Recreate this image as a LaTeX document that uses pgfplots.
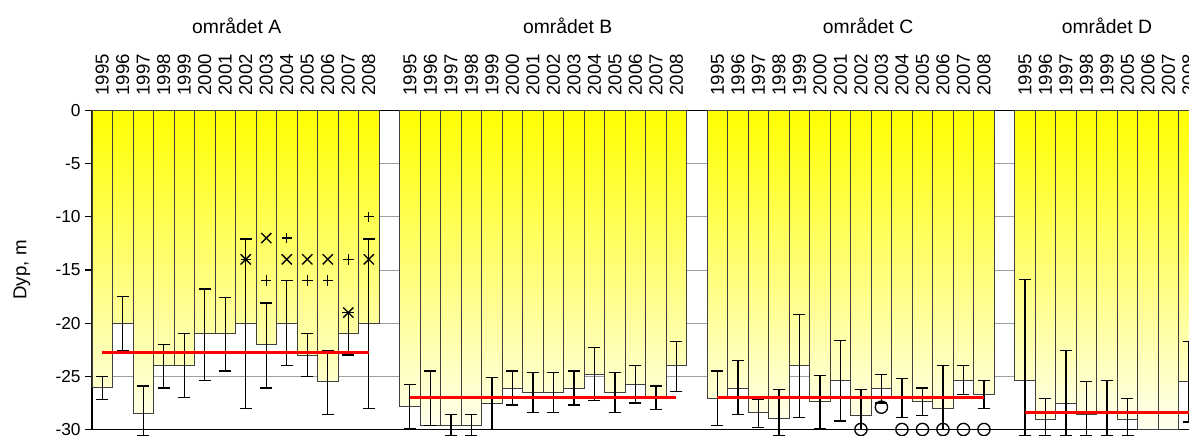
\documentclass[border=0pt]{standalone}
\usepackage{fontspec}
\setmainfont{Liberation Sans}
\usepackage{pgfplots}
\usepackage{pgfplotstable}
\pgfplotsset{compat=1.18}

% bars: x slot, depth, error low, error high
\pgfplotstableread{
x d lo hi
0 -26 -27.2 -25.0
1 -20 -22.6 -17.5
2 -28.5 -30.6 -25.9
3 -24 -26.1 -22.0
4 -24 -27.0 -21.0
5 -21 -25.4 -16.8
6 -21 -24.5 -17.6
7 -20 -28.0 -12.1
8 -22 -26.1 -18.1
9 -20 -24.0 -16.0
10 -23 -25.0 -21.0
11 -25.5 -28.6 -22.6
12 -21 -23.0 -19.0
13 -20 -28.0 -12.1
15 -27.8 -29.9 -25.8
16 -29.6 -29.6 -24.5
17 -29.6 -30.6 -28.6
18 -29.6 -30.6 -28.6
19 -27.5 -30.0 -25.1
20 -26.1 -27.7 -24.5
21 -26.5 -28.4 -24.65
22 -26.5 -28.4 -24.65
23 -26.1 -27.7 -24.5
24 -24.8 -27.3 -22.3
25 -26.5 -28.4 -24.65
26 -25.8 -27.5 -24.0
27 -27.1 -28.1 -25.9
28 -24.0 -26.4 -21.7
30 -27.1 -29.6 -24.5
31 -26.1 -28.6 -23.5
32 -28.4 -29.8 -27.2
33 -29.0 -30.6 -26.25
34 -24.0 -28.85 -19.2
35 -27.4 -29.9 -24.9
36 -25.4 -29.2 -21.6
37 -28.7 -30.0 -26.25
38 -26.1 -27.5 -24.8
39 -27.1 -28.85 -25.2
40 -27.4 -28.7 -26.1
41 -28.0 -30.0 -24.0
42 -25.4 -26.7 -24.0
43 -26.7 -28.0 -25.4
45 -25.4 -30.6 -15.9
46 -29.05 -30.6 -27.1
47 -27.5 -30.6 -22.6
48 -28.6 -30.6 -25.5
49 -28.3 -30.6 -25.4
50 -29.05 -30.6 -27.1
51 -30 nan nan
52 -30 nan nan
53 -25.5 -29.3 -21.7
}\bars

\pgfplotstableread{
x y
7 -14
8 -12
9 -14
10 -14
11 -14
12 -19
13 -14
}\crosses

\pgfplotstableread{
x y
7 -14
8 -16
9 -12
10 -16
11 -16
12 -14
13 -10
}\pluses

\pgfplotstableread{
x y
37 -30
38 -27.9
39 -30
40 -30
41 -30
42 -30
43 -30
}\circles

\begin{document}
\begin{tikzpicture}
\begin{axis}[
    scale only axis,
    width=822.75pt, height=239.25pt,
    xmin=-0.5, xmax=53, ymin=-30, ymax=0,
    clip=false,
    axis x line*=box, axis y line*=left,
    axis line style={black, line width=0.8pt},
    ytick={-30,-25,...,0},
    ymajorgrids, grid style={gray!75, line width=0.6pt},
    tick align=outside, major tick length=5pt,
    ytick style={black, line width=0.8pt},
    /pgf/number format/assume math mode=true,
    yticklabel style={font=\fontsize{13}{15}\selectfont},
    xtick={0,...,13,15,16,...,28,30,31,...,43,45,46,...,53},
    xticklabels={1995,1996,1997,1998,1999,2000,2001,2002,2003,2004,2005,2006,2007,2008,
                 1995,1996,1997,1998,1999,2000,2001,2002,2003,2004,2005,2006,2007,2008,
                 1995,1996,1997,1998,1999,2000,2001,2002,2003,2004,2005,2006,2007,2008,
                 1995,1996,1997,1998,1999,2005,2006,2007,2008},
    xticklabel pos=right,
    xtick style={draw=none},
    xticklabel style={rotate=90, anchor=west, inner sep=0pt, font=\fontsize{14}{16}\selectfont},
    xticklabel shift=6pt,
    ylabel={Dyp, m},
    ylabel style={at={(axis description cs:-0.0638,0.5)}, anchor=center, font=\fontsize{14}{16}\selectfont},
]
\addplot[ybar, bar width=1, draw=black!75, line width=0.6pt,
    top color=yellow, bottom color=yellow!6] table[x=x, y=d] {\bars};

\addplot[draw=none, mark=none,
    error bars/.cd, y dir=both, y explicit,
    error bar style={draw=black, line width=1pt},
    error mark=|,
    error mark options={draw=black, line width=1pt, mark size=4.5pt}]
    table[x=x, y expr={(\thisrow{lo}+\thisrow{hi})/2},
          y error expr={(\thisrow{hi}-\thisrow{lo})/2}] {\bars};

\addplot[red, line width=2.3pt] coordinates {(0,-22.8) (13,-22.8)};
\addplot[red, line width=2.3pt] coordinates {(15,-27.0) (28,-27.0)};
\addplot[red, line width=2.3pt] coordinates {(30,-27.0) (43,-27.0)};
\addplot[red, line width=2.3pt] coordinates {(45,-28.4) (53.6,-28.4)};

\addplot[only marks, mark=x, mark size=5.4pt, black, line width=1pt] table[x=x,y=y] {\crosses};
\addplot[only marks, mark=+, mark size=3.9pt, black, line width=1pt] table[x=x,y=y] {\pluses};
\addplot[only marks, mark=o, mark size=4.6pt, black, line width=1pt] table[x=x,y=y] {\circles};

\node[font=\fontsize{14.5}{16}\selectfont] at (axis cs:6.56,8.0) {området A};
\node[font=\fontsize{14.5}{16}\selectfont] at (axis cs:22.7,8.0) {området B};
\node[font=\fontsize{14.5}{16}\selectfont] at (axis cs:37.35,8.0) {området C};
\node[font=\fontsize{14.5}{16}\selectfont] at (axis cs:49.0,8.0) {området D};
\end{axis}
\pgfresetboundingbox
\path[use as bounding box] ([xshift=-69pt,yshift=-4.875pt]current axis.south west)
    rectangle ([yshift=82.875pt]current axis.north east);
\end{tikzpicture}
\end{document}
